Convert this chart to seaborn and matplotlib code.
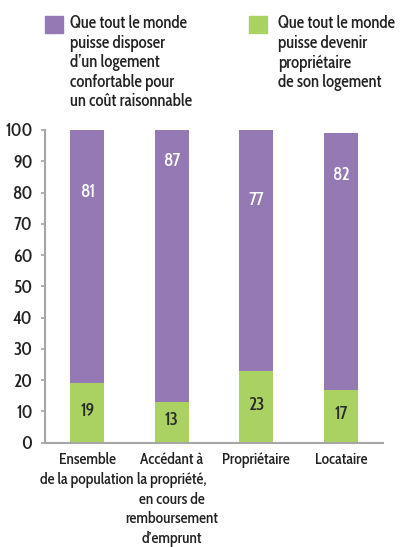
import matplotlib
matplotlib.use("Agg")
import matplotlib.pyplot as plt
import pandas as pd
import seaborn as sns
from matplotlib.patches import Rectangle

categories = ["Ensemble\nde la population",
              "Accédant à\nla propriété,\nen cours de\nremboursement\nd\u2019emprunt",
              "Propriétaire", "Locataire"]
logement = [81, 87, 77, 82]
proprietaire = [19, 13, 23, 17]
legend_labels = ["Que tout le monde\npuisse disposer\nd\u2019un logement\nconfortable pour\nun coût raisonnable",
                 "Que tout le monde\npuisse devenir\npropriétaire\nde son logement"]
# hauteur des étiquettes violettes, comme sur l'original
label_y = [80, 90, 77.5, 85.5]

purple = "#9479B5"
green = "#A9D263"
grey = "#A6A6A6"
fs = 12

sns.set_style("white")
plt.rcParams["font.family"] = ["Cabin Condensed", "DejaVu Sans"]
plt.rcParams["font.weight"] = 500
plt.rcParams["font.size"] = fs

df = pd.DataFrame({"cat": categories, "logement": logement, "proprio": proprietaire})
df["total"] = df["logement"] + df["proprio"]

fig = plt.figure(figsize=(4.01, 5.47), dpi=100)
ax = fig.add_axes([45 / 401, 1 - 442.7 / 547, 338 / 401, 312.7 / 547])

sns.barplot(data=df, x="cat", y="total", color=purple, width=0.4, ax=ax,
            saturation=1, linewidth=0)
sns.barplot(data=df, x="cat", y="proprio", color=green, width=0.4, ax=ax,
            saturation=1, linewidth=0)

for i, (p, g) in enumerate(zip(logement, proprietaire)):
    ax.text(i, label_y[i], str(p), ha="center", va="center", color="white", fontsize=fs + 1)
    ax.text(i, g / 2 + 0.5, str(g), ha="center", va="center", color="#2b2b2b", fontsize=fs + 1)

ax.set_xlim(-0.5, 3.5)
ax.set_ylim(0, 100)
ax.set_yticks(range(0, 101, 10))
ax.set_xlabel("")
ax.set_ylabel("")
ax.set_xticks([-0.5, 0.5, 1.5, 2.5, 3.5], minor=True)
ax.tick_params(axis="x", which="major", length=0, pad=7, labelsize=fs - 0.8, colors="#222222")
ax.tick_params(axis="x", which="minor", length=4, width=1.2, color=grey, direction="out")
ax.tick_params(axis="y", length=3, width=1.2, color=grey, pad=6, labelsize=fs + 1,
               labelcolor="#222222", left=True)
for s in ["top", "right"]:
    ax.spines[s].set_visible(False)
for s in ["left", "bottom"]:
    ax.spines[s].set_color(grey)
    ax.spines[s].set_linewidth(1.5)
for t in ax.get_xticklabels():
    t.set_linespacing(1.3)

# légende
for (x0, tx), col, lab in zip([(45, 70), (249, 278)], [purple, green], legend_labels):
    fig.patches.append(Rectangle((x0 / 401, 1 - 33 / 547), 18 / 401, 17 / 547,
                                 transform=fig.transFigure, color=col, figure=fig))
    fig.text(tx / 401, 1 - 15 / 547, lab, ha="left", va="top", fontsize=fs,
             color="#222222", linespacing=1.2)

fig.savefig("out.png", dpi=100)
